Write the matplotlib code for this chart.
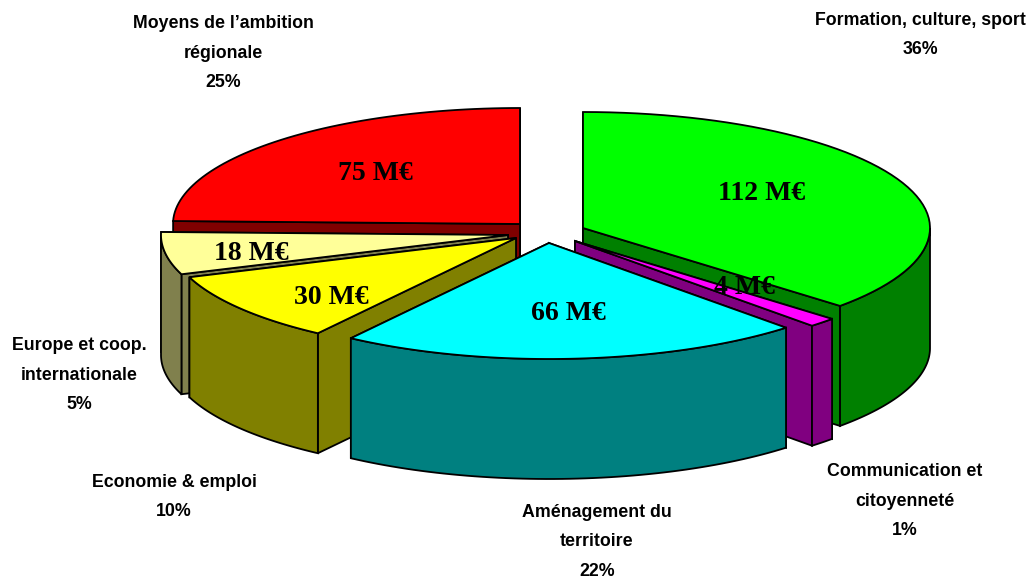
import numpy as np
import matplotlib.pyplot as plt
from matplotlib.patches import Polygon

# budget by sector, in M euros
values = [112, 4, 66, 30, 18, 75]
top_colors = ['#00FF00', '#FF00FF', '#00FFFF', '#FFFF00', '#FFFF99', '#FF0000']
side_colors = ['#008000', '#800080', '#008080', '#808000', '#80804D', '#800000']
sector_labels = ['Formation, culture, sport\n36%',
                 'Communication et\ncitoyenneté\n1%',
                 'Aménagement du\nterritoire\n22%',
                 'Economie & emploi\n10%',
                 'Europe et coop.\ninternationale\n5%',
                 'Moyens de l’ambition\nrégionale\n25%']

# layout of the exploded pie, in pixels
apex = [(583, 228), (575, 241), (549, 243), (516, 238), (508, 235), (520, 224)]
label_pos = [(920, 35), (905, 501), (597, 542), (174, 497), (79, 375), (223, 53)]
value_pos = [(762, 193), (744, 288), (568, 314), (331, 297), (251, 253), (375, 174)]
rx, ry = 347, 116
depth = 120
draw_order = [5, 0, 4, 3, 1, 2]

fig = plt.figure(figsize=(10.31, 5.84), dpi=100)
ax = fig.add_axes([0, 0, 1, 1])
ax.set_xlim(0, 1031)
ax.set_ylim(584, 0)
ax.set_axis_off()


def rim(i, a0, a1):
    a = np.radians(np.linspace(a0, a1, 60))
    return np.column_stack([apex[i][0] + rx * np.sin(a), apex[i][1] - ry * np.cos(a)])


def add_poly(pts, color, z):
    ax.add_patch(Polygon(pts, closed=True, facecolor=color, edgecolor='black', lw=1.3, zorder=z))


edges = np.concatenate([[0], np.cumsum(values)]) / sum(values) * 360

for z, i in enumerate(draw_order):
    a0, a1 = edges[i], edges[i + 1]
    centre = np.array(apex[i], dtype=float)
    down = np.array([0, depth])

    # cut faces, the one nearer the viewer goes last
    for a in sorted((a0, a1), key=lambda d: -np.cos(np.radians(d))):
        p = rim(i, a, a)[0]
        add_poly([centre, p, p + down, centre + down], side_colors[i], z * 3 + 1)

    # outer wall, only the part turned towards the viewer
    w0, w1 = max(a0, 90), min(a1, 270)
    if w1 > w0:
        arc = rim(i, w0, w1)
        add_poly(np.vstack([arc, (arc + down)[::-1]]), side_colors[i], z * 3 + 2)

    # top face
    add_poly(np.vstack([centre, rim(i, a0, a1)]), top_colors[i], z * 3 + 3)

for v, (x, y) in zip(values, value_pos):
    ax.text(x, y, f'{v} M€', ha='center', va='center', fontsize=20, fontweight='bold',
            family='Liberation Serif', zorder=50)

for lab, (x, y) in zip(sector_labels, label_pos):
    ax.text(x, y, lab, ha='center', va='center', fontsize=12.8, fontweight='bold',
            family='Liberation Sans', linespacing=1.96, color='black', zorder=50)

fig.savefig('out.png', dpi=100)
